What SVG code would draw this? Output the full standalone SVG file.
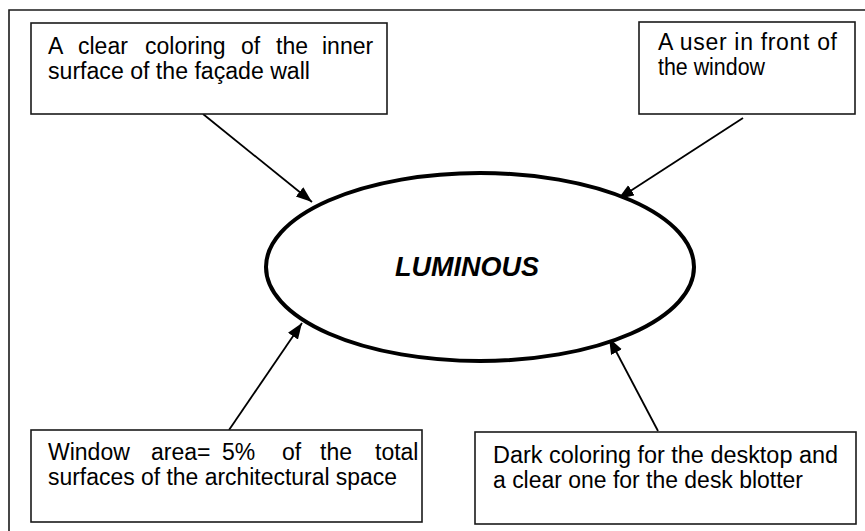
<svg xmlns="http://www.w3.org/2000/svg" width="865" height="531" viewBox="0 0 865 531">
<style>
.box{fill:#fff;stroke:#1a1a1a;stroke-width:1.6}
.t{font-family:"Liberation Sans",Arial,sans-serif;font-size:23px;fill:#000}
.c{stroke:#000;stroke-width:1.8;fill:none;marker-end:url(#ah)}
</style>
<defs>
<marker id="ah" markerUnits="userSpaceOnUse" markerWidth="18" markerHeight="14" refX="16" refY="6" orient="auto">
<path d="M0,0 L16,6 L0,12 Z" fill="#000"/>
</marker>
</defs>
<rect width="865" height="531" fill="#fff"/>
<path d="M9,531 V10 H865" fill="none" stroke="#1a1a1a" stroke-width="1.6"/>
<g id="connectors">
<line class="c" x1="203" y1="114" x2="312" y2="202"/>
<line class="c" x1="743" y1="118" x2="618" y2="199"/>
<line class="c" x1="229" y1="430" x2="302" y2="323"/>
<line class="c" x1="658" y1="431" x2="609" y2="338"/>
</g>
<g id="luminous">
<ellipse cx="480" cy="267" rx="214" ry="94" fill="#fff" stroke="#000" stroke-width="4"/>
<text x="467" y="276" text-anchor="middle" font-family="Liberation Sans,Arial,sans-serif" font-size="27" font-weight="bold" font-style="italic">LUMINOUS</text>
</g>
<g id="box1">
<rect class="box" x="31" y="23" width="356" height="91"/>
<text class="t" y="54"><tspan x="48">A</tspan><tspan x="78">clear</tspan><tspan x="145">coloring</tspan><tspan x="241">of</tspan><tspan x="276">the</tspan><tspan x="322">inner</tspan></text>
<text class="t" x="48" y="79" textLength="262" lengthAdjust="spacingAndGlyphs">surface of the façade wall</text>
</g>
<g id="box2">
<rect class="box" x="639" y="22" width="216" height="92"/>
<text class="t" x="658" y="50" textLength="179" lengthAdjust="spacing">A user in front of</text>
<text class="t" x="658" y="75" textLength="107" lengthAdjust="spacingAndGlyphs">the window</text>
</g>
<g id="box3">
<rect class="box" x="31" y="430" width="391" height="92"/>
<text class="t" y="460"><tspan x="48">Window</tspan><tspan x="151">area=</tspan><tspan x="222">5%</tspan><tspan x="282">of</tspan><tspan x="320">the</tspan><tspan x="375">total</tspan></text>
<text class="t" x="48" y="485" textLength="349" lengthAdjust="spacingAndGlyphs">surfaces of the architectural space</text>
</g>
<g id="box4">
<rect class="box" x="475" y="432" width="381" height="92"/>
<text class="t" x="493" y="463" textLength="345" lengthAdjust="spacingAndGlyphs">Dark coloring for the desktop and</text>
<text class="t" x="493" y="488" textLength="310" lengthAdjust="spacingAndGlyphs">a clear one for the desk blotter</text>
</g>
</svg>
